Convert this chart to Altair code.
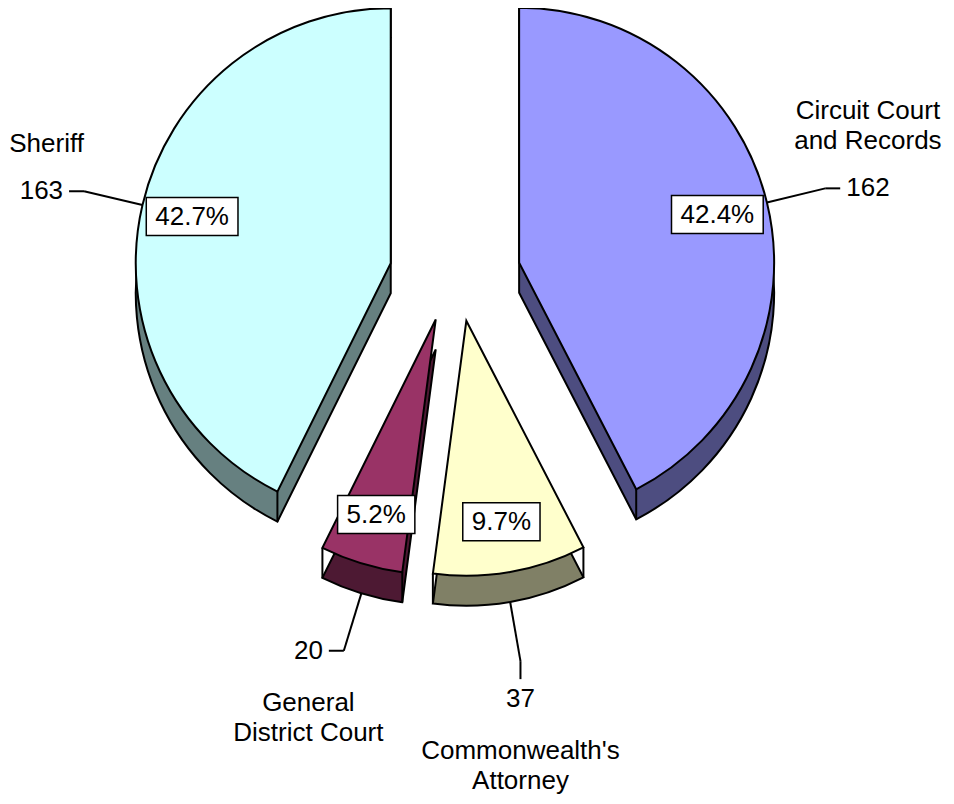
import altair as alt
import numpy as np
import pandas as pd

# ---- data ----
categories = ["Circuit Court and Records", "Commonwealth's Attorney",
              "General District Court", "Sheriff"]
name_labels = ["Circuit Court\nand Records", "Commonwealth's\nAttorney",
               "General\nDistrict Court", "Sheriff"]
values = [162, 37, 20, 163]
top_colors = ["#9999FF", "#FFFFCC", "#993366", "#CCFFFF"]
side_colors = ["#4D4D80", "#808066", "#4D1933", "#668080"]

# ---- layout constants ----
W, H = 938, 788
CX, CY = 447, 266       # pie centre (pixels in plot area)
R = 255                 # slice radius
EXPLODE = 66            # explode distance
KY = 0.72               # vertical squash of the explode offset (3D tilt)
DEPTH = 30              # thickness of the 3D side
RP = 0.8 * R            # radius of the percentage boxes
LEAD = 60               # leader line length
FS = 26                 # font size
LH = 30                 # line height of the category names
FONT = "Liberation Sans"

# approximate Arial advance widths (em) used to size boxes / keep text inside
ARIAL = {" ": .278, "'": .191, ".": .278, "%": .889, "A": .667, "C": .722, "D": .722,
         "G": .778, "R": .722, "S": .667, "a": .556, "c": .5, "d": .556, "e": .556,
         "f": .278, "h": .556, "i": .222, "l": .222, "m": .833, "n": .556, "o": .556,
         "r": .333, "s": .5, "t": .278, "u": .556, "w": .722, "y": .5}


def text_width(s):
    return max(sum(ARIAL.get(c, 0.556) for c in line) for line in s.split("\n")) * FS


vals = np.array(values, dtype=float)
total = vals.sum()
end = np.cumsum(vals)
start = end - vals
mid = (start + end) / 2 / total * 2 * np.pi
sx, sy = np.sin(mid), -np.cos(mid)

ax = CX + EXPLODE * sx
ay = CY + EXPLODE * KY * sy

pct = [f"{v / total * 100:.1f}%" for v in vals]
pct_w = np.array([text_width(s) + 18 for s in pct])

lx = ax + RP * sx
ly = ay + RP * sy

# leader lines
lsx = ax + R * sx
lsy = ay + R * sy + np.where(sy > 0, DEPTH, 0)
ex = lsx + LEAD * sx
ey = lsy + LEAD * sy
horiz = np.abs(sx) > 0.25
tx = np.where(horiz, ex + 15 * np.sign(sx), ex)
ty = np.where(horiz, ey, ey + 18 * np.sign(sy))
num_w = np.array([text_width(str(v)) for v in values])
vx = np.where(horiz, tx + np.sign(sx) * (6 + num_w / 2), tx)
vy = np.where(horiz, ty, ty + np.sign(sy) * 20)

nlines = np.array([s.count("\n") + 1 for s in name_labels])
name_w = np.array([text_width(s) for s in name_labels])
nx = np.clip(vx, name_w / 2 + 1, W - name_w / 2 - 1)
# y of the first line of the name block
ny = np.where(sy < 0, vy - 47 - (nlines - 1) * LH, vy + 52)

df = pd.DataFrame({
    "category": categories, "value": values, "name": name_labels,
    "start": start, "end": end,
    "top_color": top_colors, "side_color": side_colors,
    "ax": ax, "ay": ay, "ay_side": ay + DEPTH,
    "pct": pct, "lx": lx, "ly": ly,
    "bx0": lx - pct_w / 2, "bx1": lx + pct_w / 2,
    "by0": ly - 19, "by1": ly + 19,
    "lsx": lsx, "lsy": lsy, "ex": ex, "ey": ey, "tx": tx, "ty": ty,
    "vx": vx, "vy": vy, "nx": nx, "ny": ny,
})

# corners of each slice (vertical edges of the side walls)
corner_rows = []
for i in range(len(values)):
    for c in (start[i], end[i]):
        a = c / total * 2 * np.pi
        px = ax[i] + R * np.sin(a)
        py = ay[i] - R * np.cos(a)
        corner_rows.append({"cx": px, "cy": py, "cy2": py + DEPTH})
corners = pd.DataFrame(corner_rows)

theta_scale = alt.Scale(domain=[0, float(total)], range=[0, 2 * np.pi], zero=False, nice=False)

base = alt.Chart(df)

sides = base.mark_arc(outerRadius=R, innerRadius=0, stroke="black", strokeWidth=2).encode(
    x=alt.X("ax:Q", scale=None, axis=None),
    y=alt.Y("ay_side:Q", scale=None, axis=None),
    theta=alt.Theta("start:Q", scale=theta_scale),
    theta2="end:Q",
    fill=alt.Fill("side_color:N", scale=None),
)

edges = alt.Chart(corners).mark_rule(color="black", strokeWidth=2).encode(
    x=alt.X("cx:Q", scale=None, axis=None),
    y=alt.Y("cy:Q", scale=None, axis=None),
    y2="cy2:Q",
)

tops = base.mark_arc(outerRadius=R, innerRadius=0, stroke="black", strokeWidth=2).encode(
    x=alt.X("ax:Q", scale=None, axis=None),
    y=alt.Y("ay:Q", scale=None, axis=None),
    theta=alt.Theta("start:Q", scale=theta_scale),
    theta2="end:Q",
    fill=alt.Fill("top_color:N", scale=None),
)

lead1 = base.mark_rule(color="black", strokeWidth=2).encode(
    x=alt.X("lsx:Q", scale=None, axis=None), y=alt.Y("lsy:Q", scale=None, axis=None),
    x2="ex:Q", y2="ey:Q",
)
lead2 = base.mark_rule(color="black", strokeWidth=2).encode(
    x=alt.X("ex:Q", scale=None, axis=None), y=alt.Y("ey:Q", scale=None, axis=None),
    x2="tx:Q", y2="ty:Q",
)

boxes = base.mark_rect(fill="white", stroke="black", strokeWidth=1.5).encode(
    x=alt.X("bx0:Q", scale=None, axis=None), x2="bx1:Q",
    y=alt.Y("by0:Q", scale=None, axis=None), y2="by1:Q",
)
pct_text = base.mark_text(font=FONT, fontSize=FS, color="black", align="center", baseline="middle").encode(
    x=alt.X("lx:Q", scale=None, axis=None), y=alt.Y("ly:Q", scale=None, axis=None),
    text="pct:N",
)
val_text = base.mark_text(font=FONT, fontSize=FS, color="black", align="center", baseline="middle").encode(
    x=alt.X("vx:Q", scale=None, axis=None), y=alt.Y("vy:Q", scale=None, axis=None),
    text="value:Q",
)
name_text = base.mark_text(font=FONT, fontSize=FS, color="black", align="center",
                           baseline="middle", lineBreak="\n", lineHeight=LH).encode(
    x=alt.X("nx:Q", scale=None, axis=None), y=alt.Y("ny:Q", scale=None, axis=None),
    text="name:N",
)

chart = alt.layer(sides, edges, tops, lead1, lead2, boxes, pct_text, val_text, name_text).properties(
    width=W, height=H, padding=0, autosize=alt.AutoSizeParams(type="none"), background="white",
).configure_view(strokeWidth=0)

chart.save("out.html", embed_options={"renderer": "svg", "actions": False})
